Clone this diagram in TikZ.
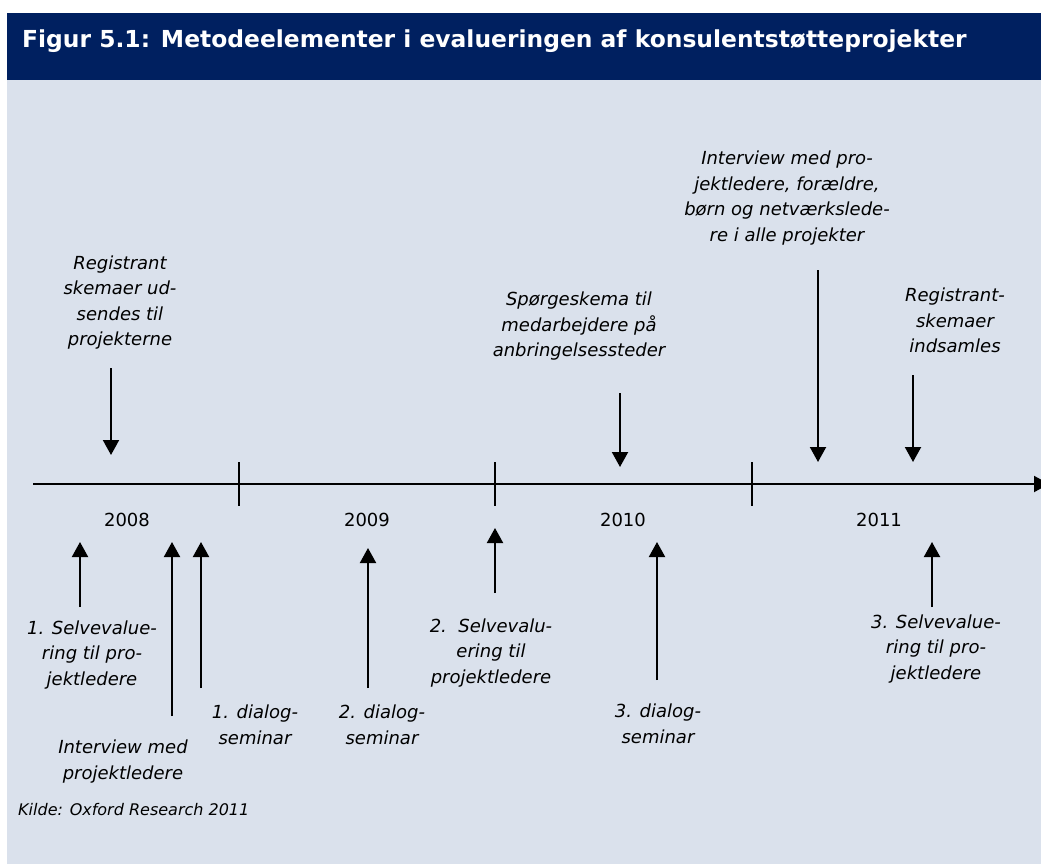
\documentclass[tikz,border=0pt]{standalone}
\usepackage{fontspec}
\setmainfont{DejaVu Sans}
\usetikzlibrary{arrows.meta}
\definecolor{navy}{RGB}{0,32,96}
\definecolor{panel}{RGB}{218,225,236}
\tikzset{
  evt/.style={font=\fontsize{18}{25.5}\selectfont\itshape,align=center,inner sep=0pt},
  yr/.style={font=\fontsize{18}{22}\selectfont,inner sep=0pt},
  arr/.style={line width=2pt,-{Triangle[width=16pt,length=15pt]}},
  axis/.style={line width=2pt,-{Triangle[width=16pt,length=15pt]}},
  tk/.style={line width=1.6pt}
}

\begin{document}
\begin{tikzpicture}[x=1pt,y=-1pt]
\useasboundingbox (0,0) rectangle (1041,864);
\fill[panel] (7,80) rectangle (1041,864);
\fill[navy] (7,13) rectangle (1041,80);
\node[anchor=base west,inner sep=0pt,text=white,font=\fontsize{23.4}{26}\selectfont\bfseries] (title) at (22,48) {Figur 5.1: Metodeelementer i evalueringen af konsulentstøtteprojekter};

% time axis
\coordinate (ax-a) at (33,484);
\coordinate (ax-b) at (1049,484);
\draw[axis] (ax-a) -- (ax-b);
\foreach \x [count=\i] in {239,495,752}{
  \coordinate (tk\i-a) at (\x,462);
  \coordinate (tk\i-b) at (\x,506);
  \draw[tk] (tk\i-a) -- (tk\i-b);
}
\foreach \yr/\x in {2008/127,2009/367,2010/623,2011/879}
  \node[yr] (y\yr) at (\x,520) {\yr};

% above the axis
\node[evt] (reg1) at (120,302.5) {Registrant\\skemaer ud-\\sendes til\\projekterne};
\node[evt] (sporg) at (579,326.5) {Spørgeskema til\\medarbejdere på\\anbringelsessteder};
\node[evt] (intv2) at (787,198) {Interview med pro-\\jektledere, forældre,\\børn og netværkslede-\\re i alle projekter};
\node[evt] (reg2) at (955,320.5) {Registrant-\\skemaer\\indsamles};
\foreach \n/\x/\ya/\yb in {1/111/368/455, 2/620/393/467, 3/818/270/462, 4/913/375/462}{
  \coordinate (dn\n-a) at (\x,\ya);
  \coordinate (dn\n-b) at (\x,\yb);
  \draw[arr] (dn\n-a) -- (dn\n-b);
}

% below the axis
\node[evt] (self1) at (92,655) {1. Selvevalue-\\ring til pro-\\jektledere};
\node[evt] (intv1) at (123,761.5) {Interview med\\projektledere};
\node[evt] (dial1) at (255,725) {1. dialog-\\seminar};
\node[evt] (dial2) at (382,725) {2. dialog-\\seminar};
\node[evt] (self2) at (491,653) {2.\ \ Selvevalu-\\ering til\\projektledere};
\node[evt] (dial3) at (658,724) {3. dialog-\\seminar};
\node[evt] (self3) at (936,649) {3. Selvevalue-\\ring til pro-\\jektledere};
\foreach \n/\x/\ya/\yb in {1/80/607/542, 2/172/716/542, 3/201/688/542, 4/368/688/548, 5/495/593/528, 6/657/680/542, 7/932/607/542}{
  \coordinate (up\n-a) at (\x,\ya);
  \coordinate (up\n-b) at (\x,\yb);
  \draw[arr] (up\n-a) -- (up\n-b);
}

\node[anchor=west,inner sep=0pt,font=\fontsize{16}{20}\selectfont\itshape] (kilde) at (18,810) {Kilde: Oxford Research 2011};
\end{tikzpicture}
\end{document}
